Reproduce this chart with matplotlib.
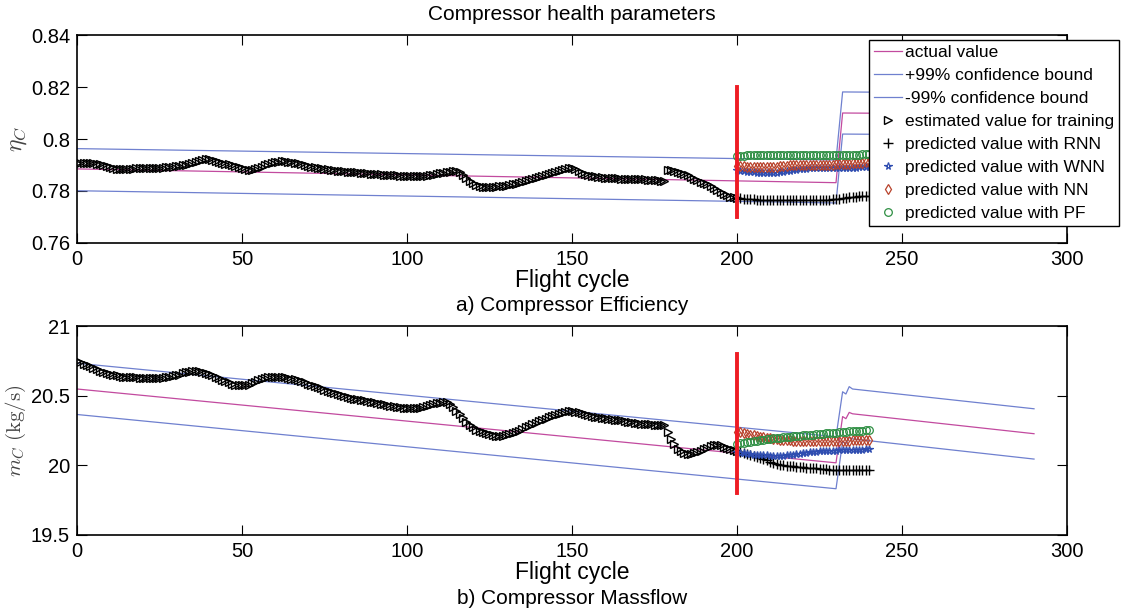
import matplotlib.pyplot as plt

plt.rcParams["font.family"] = ["Liberation Sans", "DejaVu Sans"]
plt.rcParams["mathtext.fontset"] = "cm"

# ---- compressor efficiency (top panel) ----
eff_line_cycles = [0, 230, 232, 290]
eff_actual = [0.7885, 0.7832, 0.8100, 0.8095]
eff_upper = [0.7963, 0.7919, 0.8181, 0.8176]
eff_lower = [0.7801, 0.7754, 0.8019, 0.8014]

train_cycles = list(range(0, 201))
eff_train = [
    0.7907, 0.7907, 0.7907, 0.7907, 0.7907, 0.7906, 0.7905, 0.7903, 0.7900, 0.7897,
    0.7894, 0.7890, 0.7886, 0.7883, 0.7883, 0.7884, 0.7885, 0.7886, 0.7887, 0.7887,
    0.7888, 0.7888, 0.7889, 0.7889, 0.7889, 0.7890, 0.7890, 0.7891, 0.7892, 0.7894,
    0.7896, 0.7898, 0.7899, 0.7901, 0.7905, 0.7909, 0.7913, 0.7917, 0.7920, 0.7922,
    0.7922, 0.7919, 0.7915, 0.7911, 0.7908, 0.7905, 0.7902, 0.7900, 0.7897, 0.7893,
    0.7889, 0.7885, 0.7882, 0.7881, 0.7883, 0.7888, 0.7894, 0.7900, 0.7905, 0.7909,
    0.7912, 0.7913, 0.7914, 0.7914, 0.7913, 0.7912, 0.7909, 0.7906, 0.7902, 0.7899,
    0.7896, 0.7893, 0.7891, 0.7889, 0.7887, 0.7885, 0.7883, 0.7881, 0.7879, 0.7878,
    0.7877, 0.7876, 0.7875, 0.7874, 0.7873, 0.7872, 0.7871, 0.7870, 0.7869, 0.7867,
    0.7866, 0.7865, 0.7864, 0.7863, 0.7862, 0.7861, 0.7860, 0.7860, 0.7859, 0.7859,
    0.7859, 0.7858, 0.7858, 0.7858, 0.7858, 0.7858, 0.7859, 0.7861, 0.7863, 0.7866,
    0.7868, 0.7871, 0.7873, 0.7875, 0.7877, 0.7878, 0.7872, 0.7862, 0.7850, 0.7838,
    0.7829, 0.7823, 0.7819, 0.7817, 0.7816, 0.7816, 0.7817, 0.7817, 0.7818, 0.7819,
    0.7820, 0.7822, 0.7825, 0.7828, 0.7832, 0.7836, 0.7840, 0.7843, 0.7846, 0.7849,
    0.7853, 0.7857, 0.7862, 0.7866, 0.7870, 0.7874, 0.7878, 0.7882, 0.7885, 0.7888,
    0.7887, 0.7883, 0.7877, 0.7871, 0.7865, 0.7861, 0.7858, 0.7856, 0.7854, 0.7852,
    0.7851, 0.7850, 0.7850, 0.7849, 0.7849, 0.7848, 0.7848, 0.7847, 0.7847, 0.7846,
    0.7846, 0.7845, 0.7845, 0.7844, 0.7843, 0.7842, 0.7841, 0.7840, 0.7839,
    0.7881, 0.7879, 0.7876, 0.7873, 0.7870, 0.7866, 0.7860, 0.7854, 0.7848, 0.7842,
    0.7836, 0.7832, 0.7827, 0.7820, 0.7812, 0.7804, 0.7796, 0.7789, 0.7783, 0.7778,
    0.7775, 0.7773,
]

pred_cycles = list(range(200, 241))
eff_rnn = [
    0.7773, 0.7772, 0.7771, 0.7770, 0.7769, 0.7768, 0.7767, 0.7767, 0.7766, 0.7766,
    0.7766, 0.7766, 0.7766, 0.7767, 0.7767, 0.7767, 0.7767, 0.7767, 0.7767, 0.7767,
    0.7767, 0.7767, 0.7767, 0.7767, 0.7767, 0.7767, 0.7767, 0.7767, 0.7767, 0.7768,
    0.7769, 0.7770, 0.7772, 0.7774, 0.7776, 0.7777, 0.7778, 0.7779, 0.7780, 0.7781,
    0.7781,
]
eff_wnn = [
    0.7880, 0.7878, 0.7876, 0.7875, 0.7873, 0.7872, 0.7871, 0.7870, 0.7870, 0.7869,
    0.7869, 0.7870, 0.7871, 0.7872, 0.7874, 0.7876, 0.7878, 0.7880, 0.7882, 0.7884,
    0.7885, 0.7886, 0.7887, 0.7887, 0.7888, 0.7888, 0.7888, 0.7888, 0.7888, 0.7888,
    0.7888, 0.7888, 0.7889, 0.7889, 0.7889, 0.7890, 0.7890, 0.7891, 0.7891, 0.7892,
    0.7892,
]
eff_nn = [
    0.7897, 0.7896, 0.7895, 0.7894, 0.7893, 0.7892, 0.7891, 0.7891, 0.7891, 0.7891,
    0.7892, 0.7893, 0.7894, 0.7896, 0.7897, 0.7898, 0.7899, 0.7900, 0.7900, 0.7901,
    0.7901, 0.7901, 0.7901, 0.7901, 0.7901, 0.7901, 0.7901, 0.7901, 0.7901, 0.7901,
    0.7902, 0.7902, 0.7903, 0.7904, 0.7905, 0.7906, 0.7907, 0.7908, 0.7909, 0.7910,
    0.7911,
]
eff_pf = [
    0.7935, 0.7936, 0.7936, 0.7937, 0.7937, 0.7937, 0.7938, 0.7938, 0.7938, 0.7938,
    0.7938, 0.7938, 0.7938, 0.7938, 0.7938, 0.7938, 0.7938, 0.7938, 0.7938, 0.7938,
    0.7938, 0.7938, 0.7938, 0.7938, 0.7938, 0.7938, 0.7938, 0.7938, 0.7938, 0.7938,
    0.7938, 0.7938, 0.7938, 0.7939, 0.7939, 0.7939, 0.7940, 0.7940, 0.7941, 0.7942,
    0.7942,
]

# ---- compressor massflow (bottom panel) ----
mass_line_cycles = [0, 230, 232, 233, 234, 235, 290]
mass_actual = [20.548, 20.018, 20.350, 20.335, 20.380, 20.370, 20.227]
mass_upper = [20.733, 20.205, 20.528, 20.512, 20.565, 20.548, 20.406]
mass_lower = [20.365, 19.832, 20.170, 20.155, 20.200, 20.190, 20.045]

mass_train = [
    20.750, 20.740, 20.730, 20.720, 20.710, 20.700, 20.690, 20.680, 20.670, 20.660,
    20.655, 20.650, 20.645, 20.640, 20.637, 20.635, 20.633, 20.632, 20.631, 20.630,
    20.630, 20.630, 20.630, 20.630, 20.630, 20.630, 20.630, 20.632, 20.635, 20.640,
    20.645, 20.652, 20.660, 20.667, 20.673, 20.678, 20.680, 20.678, 20.672, 20.664,
    20.655, 20.645, 20.635, 20.625, 20.615, 20.605, 20.595, 20.587, 20.580, 20.577,
    20.575, 20.576, 20.580, 20.590, 20.600, 20.612, 20.622, 20.630, 20.635, 20.637,
    20.637, 20.636, 20.634, 20.631, 20.627, 20.622, 20.617, 20.610, 20.603, 20.595,
    20.587, 20.578, 20.570, 20.561, 20.552, 20.543, 20.534, 20.525, 20.516, 20.510,
    20.503, 20.496, 20.490, 20.484, 20.479, 20.474, 20.470, 20.466, 20.462, 20.457,
    20.452, 20.447, 20.442, 20.437, 20.432, 20.428, 20.424, 20.420, 20.416, 20.413,
    20.411, 20.410, 20.410, 20.411, 20.414, 20.418, 20.423, 20.430, 20.437, 20.444,
    20.450, 20.455, 20.452, 20.440, 20.420, 20.393, 20.365, 20.338, 20.310, 20.290,
    20.272, 20.257, 20.245, 20.236, 20.229, 20.222, 20.217, 20.213, 20.210, 20.212,
    20.216, 20.222, 20.230, 20.240, 20.250, 20.262, 20.274, 20.285, 20.296, 20.306,
    20.315, 20.325, 20.335, 20.345, 20.355, 20.364, 20.372, 20.379, 20.385, 20.388,
    20.388, 20.385, 20.380, 20.373, 20.366, 20.360, 20.354, 20.349, 20.344, 20.340,
    20.337, 20.334, 20.331, 20.328, 20.325, 20.322, 20.318, 20.314, 20.310, 20.306,
    20.303, 20.300, 20.298, 20.296, 20.294, 20.293, 20.292, 20.291, 20.290,
    20.240, 20.190, 20.150, 20.120, 20.100, 20.087, 20.080, 20.081, 20.087, 20.096,
    20.106, 20.118, 20.128, 20.137, 20.145, 20.147, 20.143, 20.135, 20.125, 20.116,
    20.109, 20.104,
]
mass_rnn = [
    20.100, 20.095, 20.090, 20.080, 20.075, 20.068, 20.062, 20.055, 20.045, 20.035,
    20.025, 20.015, 20.008, 20.003, 20.000, 19.998, 19.995, 19.993, 19.990, 19.988,
    19.986, 19.984, 19.982, 19.980, 19.978, 19.976, 19.974, 19.972, 19.970, 19.968,
    19.967, 19.966, 19.965, 19.965, 19.964, 19.964, 19.964, 19.963, 19.963, 19.963,
    19.963,
]
mass_wnn = [
    20.098, 20.092, 20.087, 20.083, 20.080, 20.077, 20.075, 20.073, 20.072, 20.071,
    20.070, 20.069, 20.069, 20.069, 20.070, 20.071, 20.073, 20.076, 20.079, 20.083,
    20.087, 20.090, 20.093, 20.096, 20.098, 20.100, 20.102, 20.104, 20.105, 20.106,
    20.106, 20.107, 20.107, 20.108, 20.109, 20.110, 20.111, 20.112, 20.113, 20.114,
    20.115,
]
mass_nn = [
    20.241, 20.236, 20.231, 20.226, 20.221, 20.216, 20.211, 20.206, 20.201, 20.197,
    20.193, 20.190, 20.187, 20.184, 20.182, 20.180, 20.179, 20.178, 20.177, 20.177,
    20.176, 20.176, 20.176, 20.176, 20.176, 20.176, 20.176, 20.177, 20.177, 20.177,
    20.177, 20.177, 20.178, 20.178, 20.178, 20.179, 20.179, 20.179, 20.180, 20.180,
    20.180,
]
mass_pf = [
    20.153, 20.158, 20.163, 20.167, 20.171, 20.175, 20.178, 20.181, 20.184, 20.187,
    20.190, 20.193, 20.196, 20.199, 20.201, 20.203, 20.206, 20.208, 20.210, 20.212,
    20.215, 20.217, 20.219, 20.221, 20.223, 20.225, 20.227, 20.229, 20.231, 20.233,
    20.235, 20.237, 20.239, 20.241, 20.243, 20.245, 20.247, 20.249, 20.250, 20.252,
    20.253,
]

# red marker line: end of training
split_cycle = 200
eff_split = [0.77, 0.82]
mass_split = [19.8, 20.8]

x_ticks = [0, 50, 100, 150, 200, 250, 300]
eff_ticks = [0.76, 0.78, 0.80, 0.82, 0.84]
eff_tick_labels = ["0.76", "0.78", "0.8", "0.82", "0.84"]
mass_ticks = [19.5, 20.0, 20.5, 21.0]
mass_tick_labels = ["19.5", "20", "20.5", "21"]

BLUE = "#6f80cf"
MAGENTA = "#c24a9f"


def draw_panel(ax, line_x, actual, upper, lower, train, rnn, wnn, nn, pf, split):
    ax.plot(line_x, actual, color=MAGENTA, lw=0.9, label="actual value")
    ax.plot(line_x, upper, color=BLUE, lw=0.9, label="+99% confidence bound")
    ax.plot(line_x, lower, color=BLUE, lw=0.9, label="-99% confidence bound")
    ax.plot(train_cycles, train, ">", ls="none", ms=5.5, mfc="none", mec="black",
            mew=1.0, label="estimated value for training")
    ax.plot(pred_cycles, rnn, "+", ls="none", ms=6.5, color="black", mew=1.0,
            label="predicted value with RNN")
    ax.plot(pred_cycles, wnn, "*", ls="none", ms=5.5, mfc="none", mec="#2f4db0",
            mew=0.9, label="predicted value with WNN")
    ax.plot(pred_cycles, nn, "d", ls="none", ms=5.5, mfc="none", mec="#b8432c",
            mew=0.9, label="predicted value with NN")
    ax.plot(pred_cycles, pf, "o", ls="none", ms=5.5, mfc="none", mec="#2e8f43",
            mew=0.9, label="predicted value with PF")
    ax.plot([split_cycle, split_cycle], split, color="#ee1c24", lw=2.8, zorder=4)

    ax.set_xlim(0, 300)
    ax.set_xticks(x_ticks)
    ax.tick_params(direction="in", top=True, right=True, length=7, width=0.8,
                   labelsize=14.5, pad=5)
    for sp in ax.spines.values():
        sp.set_linewidth(1.2)
    ax.set_xlabel("Flight cycle", fontsize=16.5, labelpad=0)


fig = plt.figure(figsize=(11.22, 6.11), dpi=100)
ax1 = fig.add_axes([0.0686, 0.6023, 0.8824, 0.3404])
ax2 = fig.add_axes([0.0686, 0.1244, 0.8824, 0.3420])

draw_panel(ax1, eff_line_cycles, eff_actual, eff_upper, eff_lower, eff_train,
           eff_rnn, eff_wnn, eff_nn, eff_pf, eff_split)
ax1.set_ylim(0.76, 0.84)
ax1.set_yticks(eff_ticks)
ax1.set_yticklabels(eff_tick_labels)
ax1.set_ylabel(r"$\eta_C$", fontsize=17, color="#444444", labelpad=1)
ax1.set_title("Compressor health parameters", fontsize=15, pad=11)
ax1.text(0.5, -0.255, "a) Compressor Efficiency", transform=ax1.transAxes,
         ha="center", va="top", fontsize=15)
ax1.legend(loc="upper right", bbox_to_anchor=(1.0525, 0.976), borderaxespad=0,
           fontsize=12.5, numpoints=1, handlelength=1.6, handletextpad=0.15,
           labelspacing=0.45, borderpad=0.3, fancybox=False, framealpha=1,
           edgecolor="black").get_frame().set_linewidth(1.0)

draw_panel(ax2, mass_line_cycles, mass_actual, mass_upper, mass_lower, mass_train,
           mass_rnn, mass_wnn, mass_nn, mass_pf, mass_split)
ax2.set_ylim(19.5, 21.0)
ax2.set_yticks(mass_ticks)
ax2.set_yticklabels(mass_tick_labels)
ax2.set_ylabel(r"$m_C\ \mathrm{(kg/s)}$", fontsize=15, color="#444444", labelpad=2)
ax2.text(0.5, -0.258, "b) Compressor Massflow", transform=ax2.transAxes,
         ha="center", va="top", fontsize=15)

fig.savefig("out.png", dpi=100)
